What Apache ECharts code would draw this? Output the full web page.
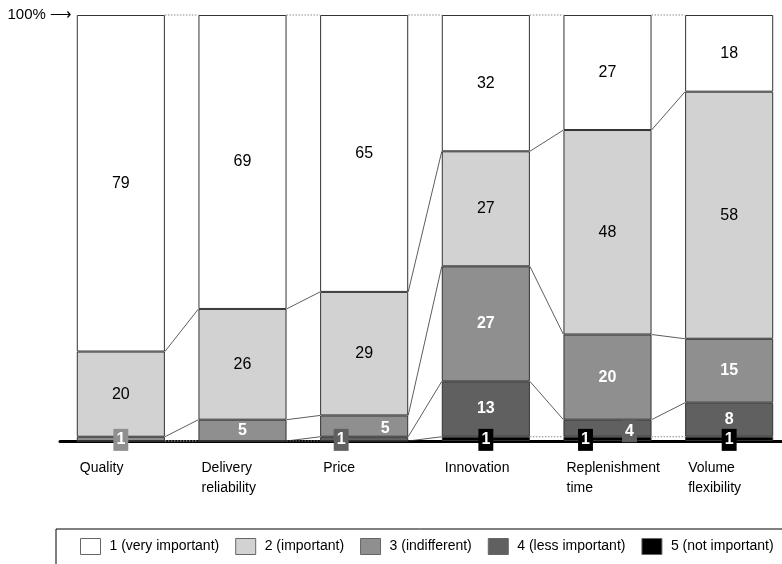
<!DOCTYPE html>
<html><head><meta charset="utf-8">
<script src="https://cdn.jsdelivr.net/npm/echarts@6/dist/echarts.min.js"></script>
<style>html,body{margin:0;padding:0;background:#fff}#c{width:782px;height:564px}</style>
</head><body><div id="c"></div>
<script>
// ---- data ----
const categories = ['Quality', 'Delivery\nreliability', 'Price', 'Innovation', 'Replenishment\ntime', 'Volume\nflexibility'];
const seriesNames = ['1 (very important)', '2 (important)', '3 (indifferent)', '4 (less important)', '5 (not important)'];
const veryImportant = [79, 69, 65, 32, 27, 18];
const important     = [20, 26, 29, 27, 48, 58];
const indifferent   = [1, 5, 5, 27, 20, 15];
const lessImportant = [0, 0, 1, 13, 4, 8];
const notImportant  = [0, 0, 0, 1, 1, 1];
const yTickLabels = {100: '100% \u27F6'};

// ---- styling ----
const FONT = 'Liberation Sans, Arial, Helvetica, sans-serif';
const BAR_RATIO = 0.724;
const values = [veryImportant, important, indifferent, lessImportant, notImportant];
const colors = ['#ffffff', '#d2d2d2', '#8f8f8f', '#606060', '#000000'];
const textColors = ['#000', '#000', '#fff', '#fff', '#fff'];
const boldText = [false, false, true, true, true];
// label nudges, keyed "series-category"
const labelShift = {'3-2': [-23, 1], '2-2': [21, 3], '4-4': [-22, 1], '3-4': [22, 3], '2-0': [0, 1], '4-3': [0, 1], '4-5': [0, 1]};

const barSeries = [4, 3, 2, 1, 0].map(s => ({
  name: seriesNames[s], type: 'bar', stack: 'total', barWidth: (BAR_RATIO * 100) + '%',
  itemStyle: {color: colors[s], borderColor: '#333', borderWidth: 1},
  emphasis: {disabled: true},
  data: values[s].map((v, i) => {
    const small = v > 0 && v <= 4;
    return {
      value: v,
      label: {
        show: v > 0, position: 'inside', offset: labelShift[s + '-' + i] || [0, 0],
        color: textColors[s], fontWeight: boldText[s] ? 'bold' : 'normal', fontSize: 16, fontFamily: FONT,
        backgroundColor: small ? colors[s] : 'transparent', padding: small ? [3, 3, 3, 3] : 0
      }
    };
  })
}));

// cumulative boundaries from bottom for connectors
const bounds = categories.map((_, i) => {
  const b0 = notImportant[i], b1 = b0 + lessImportant[i], b2 = b1 + indifferent[i], b3 = b2 + important[i], b4 = b3 + veryImportant[i];
  return [b0, b1, b2, b3, b4];
});
const connectorData = [];
for (let i = 0; i < categories.length - 1; i++) {
  for (let k = 0; k < 5; k++) connectorData.push([i, bounds[i][k], bounds[i + 1][k]]);
}

const connectors = {
  type: 'custom', silent: true, z: 1,
  encode: {x: 0, y: [1, 2]},
  data: connectorData,
  renderItem(params, api) {
    const i = api.value(0);
    const p1 = api.coord([i, api.value(1)]);
    const p2 = api.coord([i + 1, api.value(2)]);
    const step = api.size([1, 0])[0];
    const hw = step * BAR_RATIO / 2;
    const flat = api.value(1) === api.value(2);
    return {
      type: 'line',
      shape: {x1: p1[0] + hw, y1: p1[1], x2: p2[0] - hw, y2: p2[1]},
      style: {stroke: flat ? '#888' : '#333', lineWidth: flat ? 1 : 0.8, lineDash: flat ? [1.5, 1.5] : null}
    };
  }
};

const chart = echarts.init(document.getElementById('c'));
chart.setOption({
  animation: false,
  textStyle: {fontFamily: FONT},
  grid: {left: 60, width: 730, top: 15, bottom: 123, outerBoundsMode: 'none', containLabel: false},
  xAxis: {
    type: 'category', data: categories,
    axisLine: {lineStyle: {color: '#000', width: 3}},
    axisTick: {show: false},
    axisLabel: {
      interval: 0, margin: 17,
      formatter: v => v.split('\n').map(l => '{a|' + l + '}').join('\n'),
      rich: {a: {width: 82, align: 'left', fontSize: 14, lineHeight: 20, color: '#000', fontFamily: FONT}}
    }
  },
  yAxis: {
    type: 'value', min: 0, max: 100, interval: 100,
    axisLine: {show: false}, axisTick: {show: false}, splitLine: {show: false},
    axisLabel: {margin: -12, fontSize: 15, color: '#000', formatter: v => yTickLabels[v] || ''}
  },
  legend: {
    data: seriesNames, left: 56, top: 529, width: 720, icon: 'rect',
    itemWidth: 20, itemHeight: 16, itemGap: 16,
    padding: [9, 30, 20, 24], borderColor: '#000', borderWidth: 1,
    selectedMode: false,
    itemStyle: {borderColor: '#666', borderWidth: 1},
    textStyle: {fontSize: 14, color: '#000', padding: [0, 0, 0, 4], fontFamily: FONT}
  },
  series: [connectors, ...barSeries]
});
</script></body></html>
